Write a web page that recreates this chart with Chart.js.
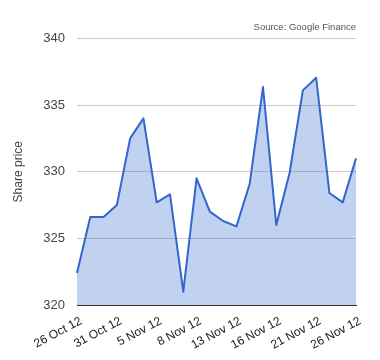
<!DOCTYPE html>
<html>
<head>
<meta charset="utf-8">
<script src="https://cdn.jsdelivr.net/npm/chart.js@4"></script>
<style>
  html, body { margin: 0; padding: 0; background: #fff; }
  #wrap { width: 380px; height: 360px; }
</style>
</head>
<body>
<div id="wrap"><canvas id="c" width="380" height="360"></canvas></div>
<script>
const dates = ["26 Oct 12","29 Oct 12","30 Oct 12","31 Oct 12","1 Nov 12","2 Nov 12","5 Nov 12","6 Nov 12","7 Nov 12","8 Nov 12","9 Nov 12","12 Nov 12","13 Nov 12","14 Nov 12","15 Nov 12","16 Nov 12","19 Nov 12","20 Nov 12","21 Nov 12","22 Nov 12","23 Nov 12","26 Nov 12"];
const prices = [322.4,326.6,326.6,327.5,332.5,334.0,327.7,328.3,321.0,329.5,327.0,326.3,325.9,329.1,336.35,326.0,329.9,336.1,337.05,328.4,327.7,331.0];
const yTicks = [320,325,330,335,340];
const sourceText = "Source: Google Finance";
const yTitle = "Share price";

const FONT = "'Liberation Sans', Arial, sans-serif";

new Chart(document.getElementById('c'), {
  type: 'line',
  data: {
    labels: dates,
    datasets: [{
      data: prices,
      borderColor: '#3366cc',
      backgroundColor: 'rgba(51,102,204,0.3)',
      borderWidth: 2,
      borderJoinStyle: 'round',
      fill: 'origin',
      pointRadius: 0,
      tension: 0
    }]
  },
  options: {
    responsive: false,
    animation: false,
    layout: { padding: { left: 11, right: 24, top: 0, bottom: 0 } },
    plugins: {
      legend: { display: false },
      tooltip: { enabled: false },
      title: {
        display: true,
        text: sourceText,
        align: 'end',
        color: '#555',
        font: { family: FONT, size: 9.5, weight: 'normal' },
        padding: { top: 22, bottom: 5 }
      }
    },
    scales: {
      x: {
        offset: false,
        grid: { display: false },
        border: { display: true, color: '#333', width: 1 },
        ticks: {
          autoSkip: false,
          minRotation: 28,
          maxRotation: 28,
          color: '#222',
          font: { family: FONT, size: 12 },
          padding: 1,
          labelOffset: 4,
          callback: function(v, i) { return i % 3 === 0 ? dates[i] : null; }
        },
        afterFit: function(s) { s.height = 55; }
      },
      y: {
        min: 320,
        max: 340,
        afterBuildTicks: function(s) { s.ticks = yTicks.map(v => ({ value: v })); },
        grid: { color: '#cccccc', drawTicks: false },
        border: { display: false },
        ticks: {
          color: '#444',
          font: { family: FONT, size: 13 },
          padding: 12
        },
        title: {
          display: true,
          text: yTitle,
          color: '#444',
          font: { family: FONT, size: 12 },
          padding: { top: 0, bottom: 0 }
        },
        afterFit: function(s) { s.width = 66; }
      }
    }
  }
});
</script>
</body>
</html>
